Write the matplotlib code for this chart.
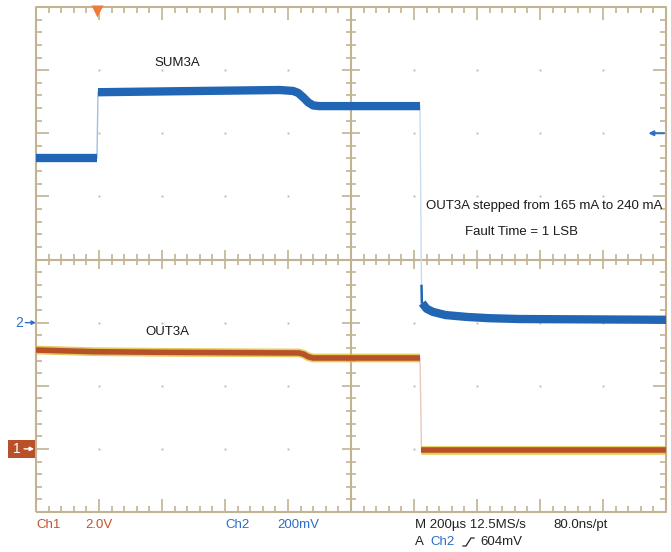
import matplotlib
matplotlib.use('Agg')
import matplotlib.pyplot as plt
from matplotlib.patches import Rectangle
from matplotlib.lines import Line2D

plt.rcParams['font.family'] = ['Liberation Sans', 'DejaVu Sans']

# ---- data (screen divisions: x 0..10, y 0..8 from bottom) ----
ch2_pre_x = [0.0, 0.968]
ch2_pre_y = [5.61, 5.61]
ch2_mid_x = [0.984, 1.8, 2.6, 3.87, 4.08, 4.16, 4.24, 4.32, 4.40, 4.5, 5.0, 6.095]
ch2_mid_y = [6.65, 6.66, 6.67, 6.685, 6.67, 6.64, 6.57, 6.49, 6.44, 6.43, 6.43, 6.43]
ch2_spike_x = [6.119, 6.125]
ch2_spike_y = [3.60, 3.30]
ch2_post_x = [6.13, 6.2, 6.30, 6.5, 6.84, 7.2, 7.68, 10.0]
ch2_post_y = [3.31, 3.22, 3.17, 3.12, 3.09, 3.07, 3.057, 3.045]

ch1_pre_x = [0.0, 0.905, 2.0, 4.175, 4.25, 4.32, 4.397, 6.095]
ch1_pre_y = [2.566, 2.54, 2.53, 2.519, 2.50, 2.46, 2.44, 2.44]
ch1_post_x = [6.119, 10.0]
ch1_post_y = [0.985, 0.985]

trigger_x = 0.968
ch2_ground = 3.0
ch1_ground = 1.0
trig_level = 6.0

labels = [("SUM3A", 2.25, 7.11), ("OUT3A", 2.08, 2.85),
          ("OUT3A stepped from 165 mA to 240 mA", 8.07, 4.85),
          ("Fault Time = 1 LSB", 7.70, 4.44)]

W, H = 671, 552
BLUE = '#2166b5'
BLUE_TXT = '#2c6ec8'
ORANGE = '#b8502a'
YELLOW = '#d9bd2a'
GRAT = '#c2b492'

fig = plt.figure(figsize=(W/100, H/100), dpi=100)
fig.patch.set_facecolor('white')
ax = fig.add_axes([36/W, (H-512)/H, 630/W, 505/H])
ax.set_xlim(0, 10)
ax.set_ylim(0, 8)
ax.axis('off')

# graticule
gk = dict(color=GRAT, lw=1.5, solid_capstyle='butt', clip_on=False, zorder=1)
ax.plot([0, 10, 10, 0, 0], [0, 0, 8, 8, 0], **gk)
ax.plot([5, 5], [0, 8], **gk)
ax.plot([0, 10], [4, 4], **gk)
tk = dict(color=GRAT, lw=1.2, solid_capstyle='butt', clip_on=False, zorder=1)
for i in range(51):
    x = i * 0.2
    major = (i % 5 == 0)
    L = 0.21 if major else 0.10
    ax.plot([x, x], [0, L], **tk)
    ax.plot([x, x], [8, 8 - L], **tk)
    h = 0.15 if major else 0.08
    ax.plot([x, x], [4 - h, 4 + h], **tk)
for i in range(41):
    y = i * 0.2
    major = (i % 5 == 0)
    L = 0.21 if major else 0.10
    ax.plot([0, L], [y, y], **tk)
    ax.plot([10, 10 - L], [y, y], **tk)
    h = 0.15 if major else 0.08
    ax.plot([5 - h, 5 + h], [y, y], **tk)
for i in range(1, 10):
    for j in range(1, 8):
        ax.plot(i, j, 's', ms=1.3, color=GRAT, mec='none', zorder=1)

# traces: thin transitions
ax.plot([ch2_pre_x[-1], ch2_mid_x[0]], [ch2_pre_y[-1], ch2_mid_y[0]], color='#9cc0e6', lw=1.0, zorder=3)
ax.plot([ch2_mid_x[-1], ch2_spike_x[0]], [ch2_mid_y[-1], ch2_spike_y[0]], color='#c8dcf0', lw=1.0, zorder=3)
ax.plot([ch1_pre_x[-1], ch1_post_x[0]], [ch1_pre_y[-1], ch1_post_y[0]], color='#e8c8b8', lw=1.0, zorder=3)

# ch1 (orange with yellow noise edges)
for xs, ys in [(ch1_pre_x, ch1_pre_y), (ch1_post_x, ch1_post_y)]:
    ax.plot(xs, ys, color=YELLOW, lw=6.3, alpha=0.75, solid_capstyle='butt', zorder=4)
    ax.plot(xs, ys, color=ORANGE, lw=4.0, solid_capstyle='butt', zorder=5)

# ch2 (blue)
for xs, ys in [(ch2_pre_x, ch2_pre_y), (ch2_mid_x, ch2_mid_y), (ch2_post_x, ch2_post_y)]:
    ax.plot(xs, ys, color=BLUE, lw=6.0, solid_capstyle='butt', zorder=6)
ax.plot(ch2_spike_x, ch2_spike_y, color=BLUE, lw=1.8, solid_capstyle='butt', zorder=6)

# labels
for t, x, y in labels:
    ax.text(x, y, t, ha='center', va='center', fontsize=9.5, color='#1a1a1a', zorder=8)

# trigger position marker
ax.plot(trigger_x, 7.93, marker='v', ms=8, color='#f07a3a', mec='none', clip_on=False, zorder=9)

# ch2 ground marker
ax.text(-0.27, ch2_ground, "2", ha='center', va='center', fontsize=10, color=BLUE_TXT, clip_on=False)
ax.annotate('', xy=(0.0, ch2_ground), xytext=(-0.17, ch2_ground),
            arrowprops=dict(arrowstyle='-|>', color=BLUE_TXT, lw=1.0, mutation_scale=6,
                            shrinkA=0, shrinkB=0), annotation_clip=False)

# ch1 ground marker box
ax.add_patch(Rectangle((-0.444, ch1_ground - 0.14), 0.43, 0.28, facecolor=ORANGE,
                       edgecolor='none', clip_on=False, zorder=9))
ax.text(-0.30, ch1_ground, "1", ha='center', va='center', fontsize=10, color='white',
        clip_on=False, zorder=10)
ax.annotate('', xy=(-0.03, ch1_ground), xytext=(-0.19, ch1_ground),
            arrowprops=dict(arrowstyle='-|>', color='white', lw=1.0, mutation_scale=6,
                            shrinkA=0, shrinkB=0), annotation_clip=False, zorder=10)

# trigger level marker (right)
ax.annotate('', xy=(9.72, trig_level), xytext=(9.97, trig_level),
            arrowprops=dict(arrowstyle='-|>', color=BLUE_TXT, lw=1.4, mutation_scale=7,
                            shrinkA=0, shrinkB=0), annotation_clip=False, zorder=9)

# bottom status text
def fx(px):
    return px / W
def fy(py):
    return 1 - py / H

fs = 9.5
fig.text(fx(36), fy(525), "Ch1", color='#c8512a', fontsize=fs, va='center')
fig.text(fx(85), fy(525), "2.0V", color='#c8512a', fontsize=fs, va='center')
fig.text(fx(225), fy(525), "Ch2", color=BLUE_TXT, fontsize=fs, va='center')
fig.text(fx(277), fy(525), "200mV", color=BLUE_TXT, fontsize=fs, va='center')
fig.text(fx(415), fy(525), "M 200\u00b5s 12.5MS/s", color='#222222', fontsize=fs, va='center')
fig.text(fx(553), fy(525), "80.0ns/pt", color='#222222', fontsize=fs, va='center')
fig.text(fx(415), fy(542), "A", color='#222222', fontsize=fs, va='center')
fig.text(fx(430), fy(542), "Ch2", color=BLUE_TXT, fontsize=fs, va='center')
fig.add_artist(Line2D([fx(463), fx(466), fx(471), fx(474)],
                      [fy(546), fy(546), fy(538), fy(538)],
                      color='#222222', lw=0.9, transform=fig.transFigure))
fig.text(fx(480), fy(542), "604mV", color='#222222', fontsize=fs, va='center')

fig.savefig('out.png', dpi=100, facecolor='white')
